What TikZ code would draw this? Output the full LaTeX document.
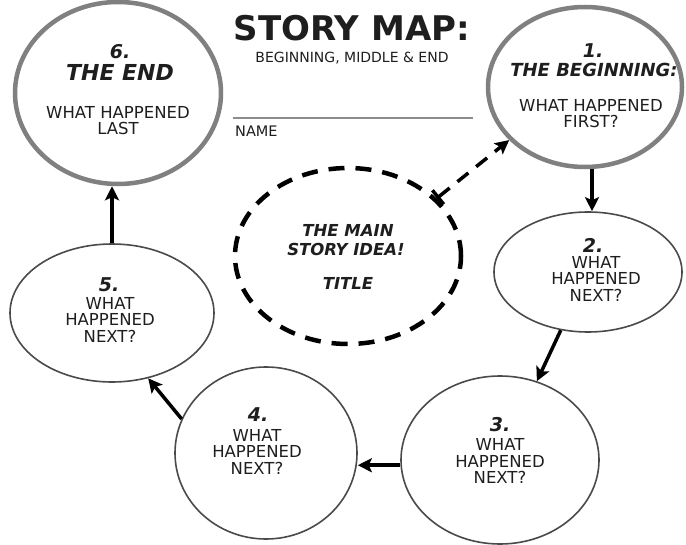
\documentclass[tikz,border=0pt]{standalone}
\usepackage{fontspec}
\setmainfont{DejaVu Sans}
\usetikzlibrary{shapes.geometric,arrows.meta}
\definecolor{ink}{HTML}{1E1E1E}
\definecolor{rimgrey}{HTML}{808080}
\definecolor{thinrim}{HTML}{4A4A4A}
\definecolor{rulegrey}{HTML}{8C8C8C}
\begin{document}
\begin{tikzpicture}[x=1bp,y=-1bp,
  bigbubble/.style={ellipse, draw=rimgrey, line width=4.5bp, inner sep=0pt, fill=white},
  smallbubble/.style={ellipse, draw=thinrim, line width=1.6bp, inner sep=0pt, fill=white},
  ideabubble/.style={ellipse, draw=black, line width=4.5bp, dash pattern=on 16bp off 11bp, inner sep=0pt},
  bodytext/.style={text=ink, font=\fontsize{16.5bp}{16.5bp}\selectfont, align=center, inner sep=0pt},
  bigbody/.style={text=ink, font=\fontsize{16.5bp}{15.5bp}\selectfont, align=center, inner sep=0pt},
  headtext/.style={text=ink, font=\fontsize{19bp}{21bp}\selectfont\bfseries\itshape, align=center, inner sep=0pt},
  ideatext/.style={text=ink, font=\fontsize{16.5bp}{16bp}\selectfont\bfseries\itshape, align=center, inner sep=0pt},
  flow/.style={draw=black, line width=3.5bp, -{Stealth[length=14bp,width=14bp,inset=3bp]}},
  dashflow/.style={draw=black, line width=3.5bp, dash pattern=on 14bp off 10bp,
    {Bar[width=18bp]}-{Stealth[length=14bp,width=14bp,inset=3bp]}},
]
\useasboundingbox (0,0) rectangle (686,545);
\fill[white] (0,0) rectangle (686,545);
\clip (0,0) rectangle (686,545);

% title block
\node[text=ink, font=\fontsize{34bp}{34bp}\selectfont\bfseries, inner sep=0pt] (title) at (352,28) {STORY MAP:};
\node[text=ink, font=\fontsize{14bp}{14bp}\selectfont, inner sep=0pt] (subtitle) at (352,58) {BEGINNING, MIDDLE \& END};
\coordinate (ruleL) at (233,118);
\coordinate (ruleR) at (473,118);
\draw[rulegrey, line width=1.6bp] (ruleL) -- (ruleR);
\node[text=ink, font=\fontsize{14.5bp}{14.5bp}\selectfont, inner sep=0pt, anchor=west] (name) at (235,131) {NAME};

% bubbles
\node[bigbubble, minimum width=206bp, minimum height=182bp] (e6) at (118,93) {};
\node[bigbubble, minimum width=194bp, minimum height=160bp] (e1) at (585,87) {};
\node[smallbubble, minimum width=188bp, minimum height=120bp] (e2) at (588,272) {};
\node[smallbubble, minimum width=198bp, minimum height=168bp] (e3) at (500,460) {};
\node[smallbubble, minimum width=182bp, minimum height=172bp] (e4) at (266,453) {};
\node[smallbubble, minimum width=204bp, minimum height=138bp] (e5) at (112,313) {};
\node[ideabubble, minimum width=226bp, minimum height=176bp] (idea) at (348,256) {};

% texts
\node[headtext] (h6n) at (120,52) {6.};
\node[headtext, font=\fontsize{22bp}{22bp}\selectfont\bfseries\itshape] (h6) at (120,72) {THE END};
\node[bigbody] (b6) at (118,120.5) {WHAT HAPPENED\\LAST};

\node[headtext] (h1n) at (593,51) {1.};
\node[headtext, font=\fontsize{18bp}{18bp}\selectfont\bfseries\itshape] (h1) at (594,70) {THE BEGINNING:};
\node[bigbody] (b1) at (591,113.5) {WHAT HAPPENED\\FIRST?};

\node[headtext] (h2n) at (593,245) {2.};
\node[bodytext] (b2) at (596,278.5) {WHAT\\HAPPENED\\NEXT?};

\node[headtext] (h3n) at (500,425) {3.};
\node[bodytext] (b3) at (500,461) {WHAT\\HAPPENED\\NEXT?};

\node[headtext] (h4n) at (258,415) {4.};
\node[bodytext] (b4) at (257,451.5) {WHAT\\HAPPENED\\NEXT?};

\node[headtext] (h5n) at (109,285) {5.};
\node[bodytext] (b5) at (110,319.5) {WHAT\\HAPPENED\\NEXT?};

\node[ideatext] (it1) at (348,230) {THE MAIN};
\node[ideatext] (it2) at (346,249) {STORY IDEA!};
\node[ideatext] (it3) at (348,283) {TITLE};

% connectors
\draw[flow] ([xshift=7bp]e1.south) -- ([xshift=7bp]e1.south |- e2.north);
\draw[flow] (e2) -- (e3);
\draw[flow] (e3.183) -- (e3.183 -| e4.east);
\draw[flow] (e4.158) -- (e5.-61);
\draw[flow] (e5.north) -- (e5.north |- e6.south);
\draw[dashflow] (idea.33) -- (e1.215);
\end{tikzpicture}
\end{document}
